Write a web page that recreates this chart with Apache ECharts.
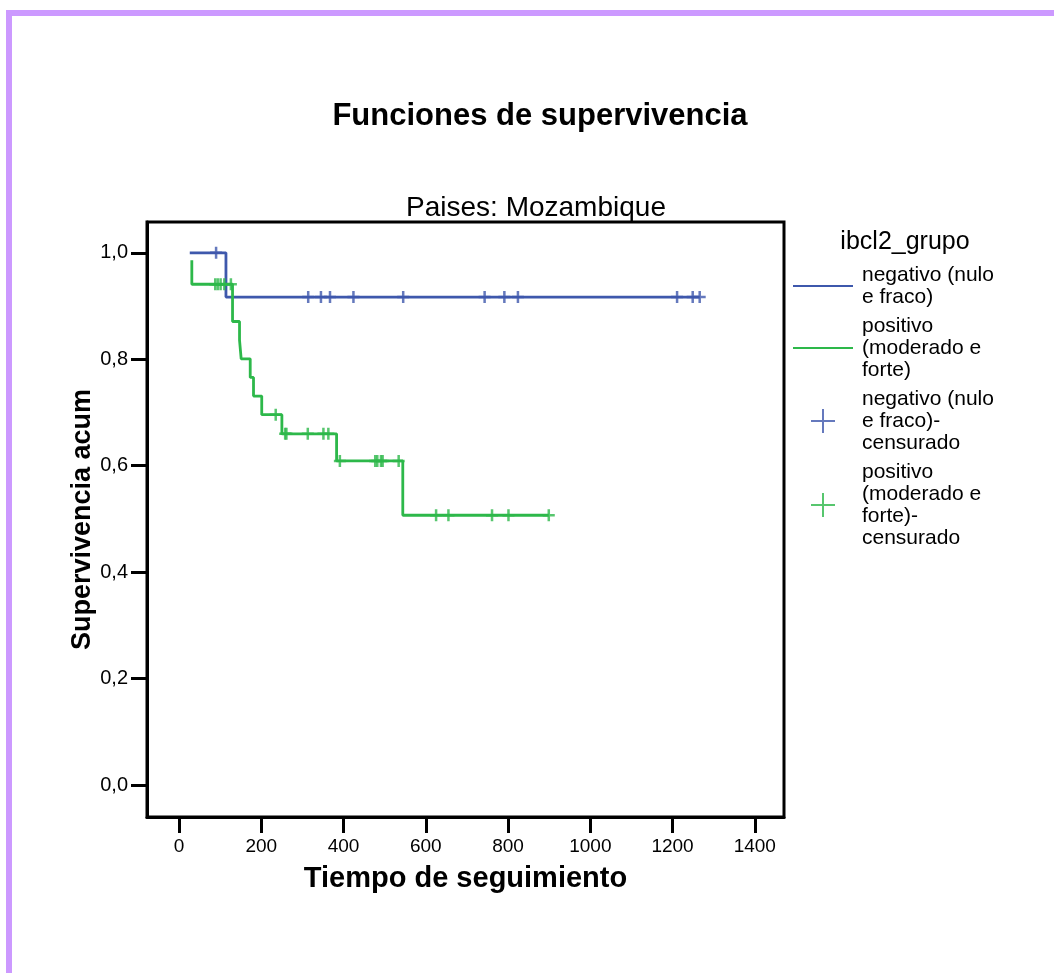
<!DOCTYPE html>
<html>
<head>
<meta charset="utf-8">
<script src="https://cdn.jsdelivr.net/npm/echarts@6/dist/echarts.min.js"></script>
<style>
  html, body { margin: 0; padding: 0; background: #ffffff; }
  #chart { width: 1054px; height: 973px; }
</style>
</head>
<body>
<div id="chart"></div>
<script>
// Kaplan-Meier survival curves, Mozambique, by ibcl2 group
const FONT = '"Liberation Sans", Arial, Helvetica, sans-serif';

// negativo (nulo e fraco): step points (time, cumulative survival)
const negTimes = [26, 114, 1266];
const negSurv = [1.0, 0.917, 0.917];
// censored follow-up times
const negCensored = [90, 314, 345, 367, 424, 545, 743, 791, 824, 1211, 1249, 1266];

// positivo (moderado e forte)
const posTimes = [31, 31, 130, 147, 151, 173, 181, 201, 250, 383, 544, 899];
const posSurv = [0.986, 0.941, 0.871, 0.836, 0.801, 0.766, 0.731, 0.696, 0.660, 0.609, 0.507, 0.507];
const posCensored = [88, 94, 101, 110, 126, 235, 258, 261, 313, 351, 363, 391, 477, 482, 491, 495, 534, 625, 655, 761, 801, 899];

// axis ticks
const xTicks = [0, 200, 400, 600, 800, 1000, 1200, 1400];
const yTicks = [0, 0.2, 0.4, 0.6, 0.8, 1.0];

// series names and their wrapped legend text
const seriesNames = [
  'negativo (nulo e fraco)',
  'positivo (moderado e forte)',
  'negativo (nulo e fraco)-censurado',
  'positivo (moderado e forte)-censurado'
];
const legendText = {
  'negativo (nulo e fraco)': 'negativo (nulo\ne fraco)',
  'positivo (moderado e forte)': 'positivo\n(moderado e\nforte)',
  'negativo (nulo e fraco)-censurado': 'negativo (nulo\ne fraco)-\ncensurado',
  'positivo (moderado e forte)-censurado': 'positivo\n(moderado e\nforte)-\ncensurado'
};

const BLUE = '#3e58ac';
const GREEN = '#2db84a';

// survival value in effect at time t (right-continuous step function)
function survivalAt(times, surv, t) {
  let s = surv[0];
  for (let i = 0; i < times.length; i++) {
    if (times[i] <= t) s = surv[i];
  }
  return s;
}

const zip = (a, b) => a.map((v, i) => [v, b[i]]);
const censorPoints = (cens, times, surv) => cens.map(t => [t, survivalAt(times, surv, t)]);

// plus-shaped marker for censored cases
const PLUS_MARK = 'path://M4.75,0h2.5v4.75h4.75v2.5h-4.75v4.75h-2.5v-4.75h-4.75v-2.5h4.75z';
const PLUS_LEGEND = 'path://M11,0h2v11h11v2h-11v11h-2v-11h-11v-2h11z';
const LINE_LEGEND = 'path://M0,0h60v2h-60z';

const chart = echarts.init(document.getElementById('chart'), null, { renderer: 'canvas' });

chart.setOption({
  backgroundColor: '#ffffff',
  animation: false,
  textStyle: { fontFamily: FONT },
  graphic: [
    { type: 'rect', shape: { x: 6, y: 10, width: 1048, height: 6 }, style: { fill: '#cc99ff' }, silent: true },
    { type: 'rect', shape: { x: 6, y: 10, width: 6, height: 963 }, style: { fill: '#cc99ff' }, silent: true }
  ],
  title: [
    {
      text: 'Funciones de supervivencia',
      left: 540, top: 101, textAlign: 'center', padding: 0,
      textStyle: { fontFamily: FONT, fontSize: 31, fontWeight: 'bold', color: '#000' }
    },
    {
      text: 'Paises: Mozambique',
      left: 536, top: 194, textAlign: 'center', padding: 0,
      textStyle: { fontFamily: FONT, fontSize: 28, fontWeight: 'normal', color: '#000' }
    },
    {
      text: 'ibcl2_grupo',
      left: 905, top: 230, textAlign: 'center', padding: 0,
      textStyle: { fontFamily: FONT, fontSize: 25, fontWeight: 'normal', color: '#000' }
    }
  ],
  legend: {
    orient: 'vertical',
    left: 793, top: 264,
    padding: 0,
    itemGap: 7,
    itemWidth: 60,
    itemHeight: 24,
    symbolKeepAspect: true,
    selectedMode: false,
    itemStyle: { borderWidth: 0 },
    data: [
      { name: seriesNames[0], icon: LINE_LEGEND },
      { name: seriesNames[1], icon: LINE_LEGEND },
      { name: seriesNames[2], icon: PLUS_LEGEND },
      { name: seriesNames[3], icon: PLUS_LEGEND }
    ],
    formatter: name => legendText[name],
    textStyle: { fontFamily: FONT, fontSize: 21, lineHeight: 22, color: '#000', padding: [0, 0, 0, 4] }
  },
  grid: {
    left: 147, top: 222, width: 637, height: 595,
    show: true, borderColor: '#000', borderWidth: 3, backgroundColor: 'transparent'
  },
  xAxis: {
    type: 'value',
    min: -78, max: 1471,
    name: 'Tiempo de seguimiento',
    nameLocation: 'middle',
    nameGap: 47,
    nameMoveOverlap: false,
    nameTextStyle: { fontFamily: FONT, fontSize: 29, fontWeight: 'bold', color: '#000' },
    axisLine: { show: true, onZero: false, lineStyle: { color: '#000', width: 3 } },
    axisTick: { show: true, inside: false, length: 16, lineStyle: { color: '#000', width: 3 }, customValues: xTicks },
    axisLabel: {
      show: true, margin: 20, customValues: xTicks, fontFamily: FONT, fontSize: 19, color: '#000',
      formatter: v => String(v)
    },
    splitLine: { show: false }
  },
  yAxis: {
    type: 'value',
    min: -0.06, max: 1.058,
    name: 'Supervivencia acum',
    nameLocation: 'middle',
    nameRotate: 90,
    nameGap: 51,
    nameMoveOverlap: false,
    nameTextStyle: { fontFamily: FONT, fontSize: 27, fontWeight: 'bold', color: '#000' },
    axisLine: { show: true, onZero: false, lineStyle: { color: '#000', width: 3 } },
    axisTick: { show: true, inside: false, length: 16, lineStyle: { color: '#000', width: 3 }, customValues: yTicks },
    axisLabel: {
      show: true, margin: 19, customValues: yTicks, fontFamily: FONT, fontSize: 20, color: '#000',
      formatter: v => v.toFixed(1).replace('.', ',')
    },
    splitLine: { show: false }
  },
  series: [
    {
      name: seriesNames[0], type: 'line', step: 'end', symbol: 'none',
      color: BLUE, lineStyle: { color: BLUE, width: 2.8 },
      data: zip(negTimes, negSurv), z: 3
    },
    {
      name: seriesNames[1], type: 'line', step: 'end', symbol: 'none',
      color: GREEN, lineStyle: { color: GREEN, width: 2.8 },
      data: zip(posTimes, posSurv), z: 3
    },
    {
      name: seriesNames[2], type: 'scatter', symbol: PLUS_MARK, symbolSize: 12,
      color: BLUE, itemStyle: { color: BLUE },
      data: censorPoints(negCensored, negTimes, negSurv), z: 4
    },
    {
      name: seriesNames[3], type: 'scatter', symbol: PLUS_MARK, symbolSize: 12,
      color: GREEN, itemStyle: { color: GREEN },
      data: censorPoints(posCensored, posTimes, posSurv), z: 4
    }
  ]
});
</script>
</body>
</html>
